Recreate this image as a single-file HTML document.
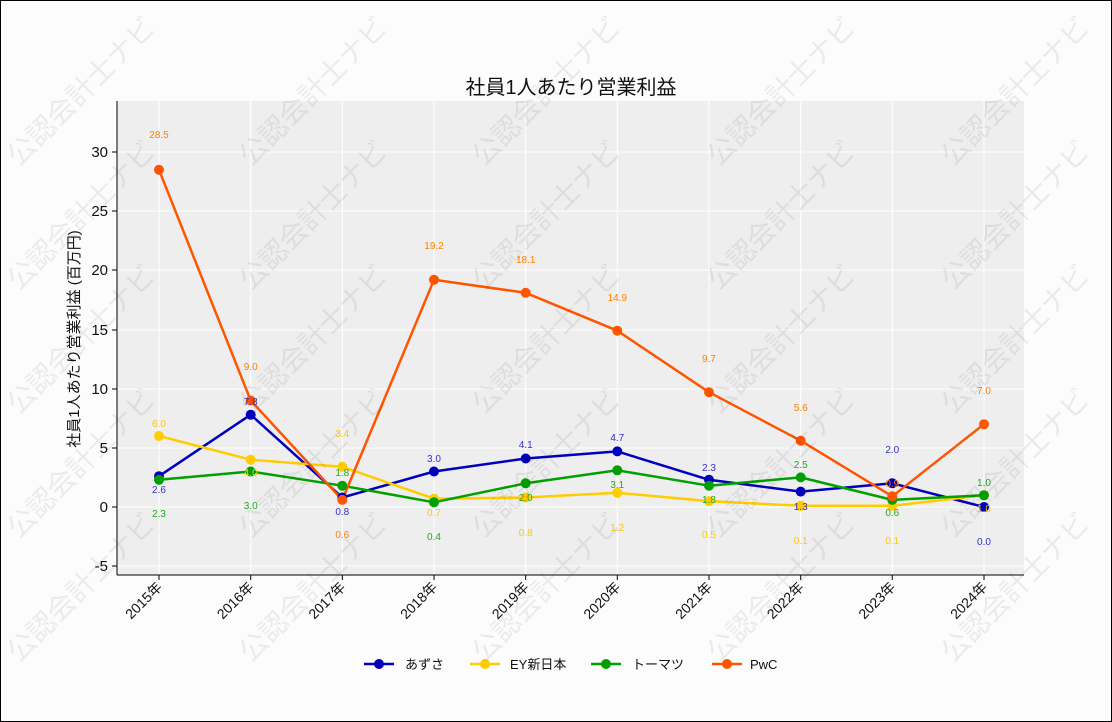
<!DOCTYPE html>
<html><head><meta charset="utf-8"><style>
body{margin:0;background:#fcfcfc}
svg{display:block;font-family:"Liberation Sans","Noto Sans CJK JP",sans-serif}
</style></head><body>
<svg width="1112" height="722" viewBox="0 0 1112 722" xmlns="http://www.w3.org/2000/svg">
<rect x="0.5" y="0.5" width="1111" height="721" fill="#fcfcfc" stroke="#000" stroke-width="1"/>
<rect x="117" y="101" width="907" height="474" fill="#eeeeee"/>
<g stroke="#fff" stroke-width="1">
<line x1="117" x2="1024" y1="566" y2="566"/><line x1="117" x2="1024" y1="507" y2="507"/>
<line x1="117" x2="1024" y1="448" y2="448"/><line x1="117" x2="1024" y1="389" y2="389"/>
<line x1="117" x2="1024" y1="330" y2="330"/><line x1="117" x2="1024" y1="270" y2="270"/>
<line x1="117" x2="1024" y1="211" y2="211"/><line x1="117" x2="1024" y1="152" y2="152"/>
<line x1="159" x2="159" y1="101" y2="575"/><line x1="250.7" x2="250.7" y1="101" y2="575"/>
<line x1="342.3" x2="342.3" y1="101" y2="575"/><line x1="434" x2="434" y1="101" y2="575"/>
<line x1="525.7" x2="525.7" y1="101" y2="575"/><line x1="617.3" x2="617.3" y1="101" y2="575"/>
<line x1="709" x2="709" y1="101" y2="575"/><line x1="800.7" x2="800.7" y1="101" y2="575"/>
<line x1="892.3" x2="892.3" y1="101" y2="575"/><line x1="984" x2="984" y1="101" y2="575"/>
</g>
<g stroke="#000" stroke-width="1">
<line x1="117" x2="117" y1="101" y2="575"/><line x1="117" x2="1024" y1="575" y2="575"/>
<line x1="112" x2="117" y1="566" y2="566"/><line x1="112" x2="117" y1="507" y2="507"/>
<line x1="112" x2="117" y1="448" y2="448"/><line x1="112" x2="117" y1="389" y2="389"/>
<line x1="112" x2="117" y1="330" y2="330"/><line x1="112" x2="117" y1="270" y2="270"/>
<line x1="112" x2="117" y1="211" y2="211"/><line x1="112" x2="117" y1="152" y2="152"/>
<line x1="159" x2="159" y1="575" y2="580"/><line x1="250.7" x2="250.7" y1="575" y2="580"/>
<line x1="342.3" x2="342.3" y1="575" y2="580"/><line x1="434" x2="434" y1="575" y2="580"/>
<line x1="525.7" x2="525.7" y1="575" y2="580"/><line x1="617.3" x2="617.3" y1="575" y2="580"/>
<line x1="709" x2="709" y1="575" y2="580"/><line x1="800.7" x2="800.7" y1="575" y2="580"/>
<line x1="892.3" x2="892.3" y1="575" y2="580"/><line x1="984" x2="984" y1="575" y2="580"/>
</g>
<g font-size="15" text-anchor="end" fill="#111">
<text x="108" y="571">-5</text><text x="108" y="512">0</text><text x="108" y="453">5</text>
<text x="108" y="394">10</text><text x="108" y="335">15</text><text x="108" y="275">20</text>
<text x="108" y="216">25</text><text x="108" y="157">30</text>
</g>
<g font-size="14" text-anchor="end" fill="#111">
<text transform="translate(163,588) rotate(-45)">2015年</text>
<text transform="translate(254.7,588) rotate(-45)">2016年</text>
<text transform="translate(346.3,588) rotate(-45)">2017年</text>
<text transform="translate(438,588) rotate(-45)">2018年</text>
<text transform="translate(529.7,588) rotate(-45)">2019年</text>
<text transform="translate(621.3,588) rotate(-45)">2020年</text>
<text transform="translate(713,588) rotate(-45)">2021年</text>
<text transform="translate(804.7,588) rotate(-45)">2022年</text>
<text transform="translate(896.3,588) rotate(-45)">2023年</text>
<text transform="translate(988,588) rotate(-45)">2024年</text>
</g>
<text x="571" y="94" font-size="20" text-anchor="middle" fill="#111">社員1人あたり営業利益</text>
<text transform="translate(79,339) rotate(-90)" font-size="15" text-anchor="middle" fill="#111">社員1人あたり営業利益 (百万円)</text>

<g fill="none" stroke-width="2.5" stroke-linejoin="round">
<polyline stroke="#0000bb" points="159,476.2 250.7,414.7 342.3,497.5 434,471.5 525.7,458.5 617.3,451.4 709,479.8 800.7,491.6 892.3,483.3 984,507"/>
<polyline stroke="#ffcc00" points="159,436 250.7,459.7 342.3,466.8 434,498.7 525.7,497.5 617.3,492.8 709,501.1 800.7,505.8 892.3,505.8 984,495.2"/>
<polyline stroke="#00a000" points="159,479.8 250.7,471.5 342.3,485.7 434,502.3 525.7,483.3 617.3,470.3 709,485.7 800.7,477.4 892.3,499.9 984,495.2"/>
<polyline stroke="#ff5500" points="159,169.8 250.7,400.5 342.3,499.9 434,279.8 525.7,292.8 617.3,330.7 709,392.2 800.7,440.7 892.3,496.3 984,424.2"/>
</g>
<g fill="#0000bb"><circle cx="159" cy="476.2" r="5"/><circle cx="250.7" cy="414.7" r="5"/><circle cx="342.3" cy="497.5" r="5"/><circle cx="434" cy="471.5" r="5"/><circle cx="525.7" cy="458.5" r="5"/><circle cx="617.3" cy="451.4" r="5"/><circle cx="709" cy="479.8" r="5"/><circle cx="800.7" cy="491.6" r="5"/><circle cx="892.3" cy="483.3" r="5"/><circle cx="984" cy="507" r="5"/></g>
<g fill="#ffcc00"><circle cx="159" cy="436" r="5"/><circle cx="250.7" cy="459.7" r="5"/><circle cx="342.3" cy="466.8" r="5"/><circle cx="434" cy="498.7" r="5"/><circle cx="525.7" cy="497.5" r="5"/><circle cx="617.3" cy="492.8" r="5"/><circle cx="709" cy="501.1" r="5"/><circle cx="800.7" cy="505.8" r="5"/><circle cx="892.3" cy="505.8" r="5"/><circle cx="984" cy="495.2" r="5"/></g>
<g fill="#00a000"><circle cx="159" cy="479.8" r="5"/><circle cx="250.7" cy="471.5" r="5"/><circle cx="342.3" cy="485.7" r="5"/><circle cx="434" cy="502.3" r="5"/><circle cx="525.7" cy="483.3" r="5"/><circle cx="617.3" cy="470.3" r="5"/><circle cx="709" cy="485.7" r="5"/><circle cx="800.7" cy="477.4" r="5"/><circle cx="892.3" cy="499.9" r="5"/><circle cx="984" cy="495.2" r="5"/></g>
<g fill="#ff5500"><circle cx="159" cy="169.8" r="5"/><circle cx="250.7" cy="400.5" r="5"/><circle cx="342.3" cy="499.9" r="5"/><circle cx="434" cy="279.8" r="5"/><circle cx="525.7" cy="292.8" r="5"/><circle cx="617.3" cy="330.7" r="5"/><circle cx="709" cy="392.2" r="5"/><circle cx="800.7" cy="440.7" r="5"/><circle cx="892.3" cy="496.3" r="5"/><circle cx="984" cy="424.2" r="5"/></g>

<g font-size="10" text-anchor="middle">
<g fill="#3333cc">
<text x="159" y="493">2.6</text><text x="250.7" y="405">7.8</text><text x="342.3" y="515">0.8</text><text x="434" y="462">3.0</text><text x="525.7" y="448">4.1</text><text x="617.3" y="441">4.7</text><text x="709" y="471">2.3</text><text x="800.7" y="510">1.3</text><text x="892.3" y="453">2.0</text><text x="984" y="545">0.0</text>
</g>
<g fill="#ffc800">
<text x="159" y="427">6.0</text><text x="250.7" y="476">4.0</text><text x="342.3" y="437">3.4</text><text x="434" y="516">0.7</text><text x="525.7" y="536">0.8</text><text x="617.3" y="531">1.2</text><text x="709" y="538">0.5</text><text x="800.7" y="544">0.1</text><text x="892.3" y="544">0.1</text><text x="984" y="512">1.0</text>
</g>
<g fill="#22aa22">
<text x="159" y="517">2.3</text><text x="250.7" y="509">3.0</text><text x="342.3" y="476">1.8</text><text x="434" y="540">0.4</text><text x="525.7" y="501">2.0</text><text x="617.3" y="488">3.1</text><text x="709" y="503">1.8</text><text x="800.7" y="468">2.5</text><text x="892.3" y="516">0.6</text><text x="984" y="486">1.0</text>
</g>
<g fill="#ff8000">
<text x="159" y="138">28.5</text><text x="250.7" y="370">9.0</text><text x="342.3" y="538">0.6</text><text x="434" y="249">19.2</text><text x="525.7" y="263">18.1</text><text x="617.3" y="301">14.9</text><text x="709" y="362">9.7</text><text x="800.7" y="411">5.6</text><text x="892.3" y="487">0.9</text><text x="984" y="394">7.0</text>
</g>
</g>

<g font-size="13" fill="#111">
<line x1="364" x2="394" y1="664" y2="664" stroke="#0000bb" stroke-width="2.5"/><circle cx="379" cy="664" r="5" fill="#0000bb"/>
<text x="405" y="669">あずさ</text>
<line x1="470" x2="500" y1="664" y2="664" stroke="#ffcc00" stroke-width="2.5"/><circle cx="485" cy="664" r="5" fill="#ffcc00"/>
<text x="510" y="669">EY新日本</text>
<line x1="591" x2="621" y1="664" y2="664" stroke="#00a000" stroke-width="2.5"/><circle cx="606" cy="664" r="5" fill="#00a000"/>
<text x="632" y="669">トーマツ</text>
<line x1="712" x2="742" y1="664" y2="664" stroke="#ff5500" stroke-width="2.5"/><circle cx="727" cy="664" r="5" fill="#ff5500"/>
<text x="750" y="669">PwC</text>
</g>

<g font-size="28" fill="#000" fill-opacity="0.07" text-anchor="middle">
<text transform="translate(88,98) rotate(-45)">公認会計士ナビ</text>
<text transform="translate(320,98) rotate(-45)">公認会計士ナビ</text>
<text transform="translate(553,98) rotate(-45)">公認会計士ナビ</text>
<text transform="translate(788,98) rotate(-45)">公認会計士ナビ</text>
<text transform="translate(1022,98) rotate(-45)">公認会計士ナビ</text>
<text transform="translate(88,222) rotate(-45)">公認会計士ナビ</text>
<text transform="translate(320,222) rotate(-45)">公認会計士ナビ</text>
<text transform="translate(553,222) rotate(-45)">公認会計士ナビ</text>
<text transform="translate(788,222) rotate(-45)">公認会計士ナビ</text>
<text transform="translate(1022,222) rotate(-45)">公認会計士ナビ</text>
<text transform="translate(88,346) rotate(-45)">公認会計士ナビ</text>
<text transform="translate(320,346) rotate(-45)">公認会計士ナビ</text>
<text transform="translate(553,346) rotate(-45)">公認会計士ナビ</text>
<text transform="translate(788,346) rotate(-45)">公認会計士ナビ</text>
<text transform="translate(1022,346) rotate(-45)">公認会計士ナビ</text>
<text transform="translate(88,470) rotate(-45)">公認会計士ナビ</text>
<text transform="translate(320,470) rotate(-45)">公認会計士ナビ</text>
<text transform="translate(553,470) rotate(-45)">公認会計士ナビ</text>
<text transform="translate(788,470) rotate(-45)">公認会計士ナビ</text>
<text transform="translate(1022,470) rotate(-45)">公認会計士ナビ</text>
<text transform="translate(88,594) rotate(-45)">公認会計士ナビ</text>
<text transform="translate(320,594) rotate(-45)">公認会計士ナビ</text>
<text transform="translate(553,594) rotate(-45)">公認会計士ナビ</text>
<text transform="translate(788,594) rotate(-45)">公認会計士ナビ</text>
<text transform="translate(1022,594) rotate(-45)">公認会計士ナビ</text>
</g>
</svg>
</body></html>
